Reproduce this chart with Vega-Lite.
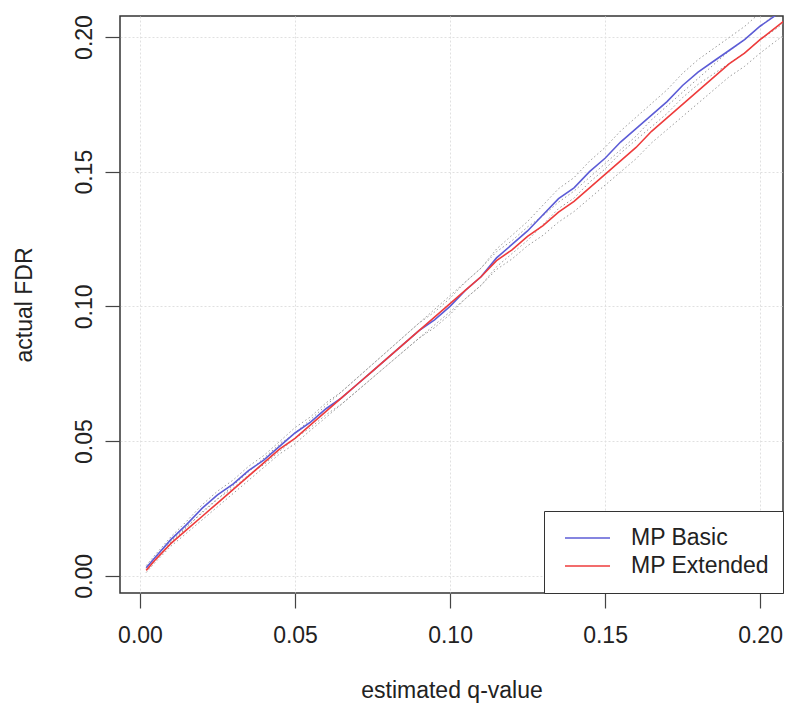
{
  "$schema": "https://vega.github.io/schema/vega-lite/v6.json",
  "width": 663,
  "height": 577,
  "autosize": "none",
  "padding": {"left": 120, "top": 16, "right": 3, "bottom": 111},
  "background": "white",
  "config": {
    "font": "Liberation Sans",
    "view": {"stroke": "#333333", "strokeWidth": 1.5},
    "axis": {
      "domain": false,
      "grid": true,
      "gridColor": "#e0e0e0",
      "gridDash": [2, 2],
      "gridWidth": 1,
      "tickColor": "#444444",
      "tickSize": 15,
      "tickWidth": 1.2,
      "labelFont": "Liberation Sans",
      "labelFontSize": 23,
      "labelColor": "#222222",
      "titleFont": "Liberation Sans",
      "titleFontSize": 23,
      "titleFontWeight": "normal",
      "titleColor": "#222222"
    },
    "legend": {
      "orient": "bottom-right",
      "offset": 0,
      "strokeColor": "#333333",
      "fillColor": "white",
      "padding": 13,
      "symbolOffset": 7,
      "clipHeight": 28,
      "labelFont": "Liberation Sans",
      "labelFontSize": 23,
      "labelColor": "#222222",
      "symbolType": "stroke",
      "symbolSize": 2025,
      "symbolStrokeWidth": 1.5,
      "labelOffset": 20,
      "rowPadding": 0
    }
  },
  "data": {
    "values": [
      {"q": 0.002, "MP Basic": 0.003, "MP Extended": 0.002, "bl": 0.0022, "bh": 0.0038, "el": 0.0012, "eh": 0.0028},
      {"q": 0.005, "MP Basic": 0.007, "MP Extended": 0.006, "bl": 0.0061, "bh": 0.0079, "el": 0.0051, "eh": 0.0069},
      {"q": 0.010, "MP Basic": 0.0135, "MP Extended": 0.012, "bl": 0.0125, "bh": 0.0145, "el": 0.011, "eh": 0.013},
      {"q": 0.015, "MP Basic": 0.019, "MP Extended": 0.017, "bl": 0.0178, "bh": 0.0202, "el": 0.0158, "eh": 0.0182},
      {"q": 0.020, "MP Basic": 0.025, "MP Extended": 0.022, "bl": 0.0237, "bh": 0.0263, "el": 0.0207, "eh": 0.0233},
      {"q": 0.025, "MP Basic": 0.030, "MP Extended": 0.027, "bl": 0.0286, "bh": 0.0314, "el": 0.0256, "eh": 0.0284},
      {"q": 0.030, "MP Basic": 0.034, "MP Extended": 0.032, "bl": 0.0325, "bh": 0.0355, "el": 0.0305, "eh": 0.0335},
      {"q": 0.035, "MP Basic": 0.039, "MP Extended": 0.037, "bl": 0.0374, "bh": 0.0406, "el": 0.0354, "eh": 0.0386},
      {"q": 0.040, "MP Basic": 0.043, "MP Extended": 0.042, "bl": 0.0413, "bh": 0.0447, "el": 0.0403, "eh": 0.0437},
      {"q": 0.045, "MP Basic": 0.048, "MP Extended": 0.047, "bl": 0.0462, "bh": 0.0498, "el": 0.0452, "eh": 0.0488},
      {"q": 0.050, "MP Basic": 0.053, "MP Extended": 0.051, "bl": 0.051, "bh": 0.055, "el": 0.049, "eh": 0.053},
      {"q": 0.055, "MP Basic": 0.057, "MP Extended": 0.056, "bl": 0.055, "bh": 0.059, "el": 0.054, "eh": 0.058},
      {"q": 0.060, "MP Basic": 0.062, "MP Extended": 0.061, "bl": 0.0598, "bh": 0.0642, "el": 0.0588, "eh": 0.0632},
      {"q": 0.065, "MP Basic": 0.066, "MP Extended": 0.066, "bl": 0.0637, "bh": 0.0683, "el": 0.0637, "eh": 0.0683},
      {"q": 0.070, "MP Basic": 0.071, "MP Extended": 0.071, "bl": 0.0686, "bh": 0.0734, "el": 0.0686, "eh": 0.0734},
      {"q": 0.075, "MP Basic": 0.076, "MP Extended": 0.076, "bl": 0.0735, "bh": 0.0785, "el": 0.0735, "eh": 0.0785},
      {"q": 0.080, "MP Basic": 0.081, "MP Extended": 0.081, "bl": 0.0784, "bh": 0.0836, "el": 0.0784, "eh": 0.0836},
      {"q": 0.085, "MP Basic": 0.086, "MP Extended": 0.086, "bl": 0.0833, "bh": 0.0887, "el": 0.0833, "eh": 0.0887},
      {"q": 0.090, "MP Basic": 0.091, "MP Extended": 0.091, "bl": 0.0882, "bh": 0.0938, "el": 0.0882, "eh": 0.0938},
      {"q": 0.095, "MP Basic": 0.095, "MP Extended": 0.096, "bl": 0.0921, "bh": 0.0979, "el": 0.0931, "eh": 0.0989},
      {"q": 0.100, "MP Basic": 0.100, "MP Extended": 0.101, "bl": 0.097, "bh": 0.103, "el": 0.098, "eh": 0.104},
      {"q": 0.105, "MP Basic": 0.106, "MP Extended": 0.106, "bl": 0.1029, "bh": 0.1091, "el": 0.1029, "eh": 0.1091},
      {"q": 0.110, "MP Basic": 0.111, "MP Extended": 0.111, "bl": 0.1078, "bh": 0.1142, "el": 0.1078, "eh": 0.1142},
      {"q": 0.115, "MP Basic": 0.118, "MP Extended": 0.117, "bl": 0.1147, "bh": 0.1213, "el": 0.1137, "eh": 0.1203},
      {"q": 0.120, "MP Basic": 0.123, "MP Extended": 0.121, "bl": 0.1196, "bh": 0.1264, "el": 0.1176, "eh": 0.1244},
      {"q": 0.125, "MP Basic": 0.128, "MP Extended": 0.126, "bl": 0.1245, "bh": 0.1315, "el": 0.1225, "eh": 0.1295},
      {"q": 0.130, "MP Basic": 0.134, "MP Extended": 0.130, "bl": 0.1304, "bh": 0.1376, "el": 0.1264, "eh": 0.1336},
      {"q": 0.135, "MP Basic": 0.140, "MP Extended": 0.135, "bl": 0.1363, "bh": 0.1437, "el": 0.1313, "eh": 0.1387},
      {"q": 0.140, "MP Basic": 0.144, "MP Extended": 0.139, "bl": 0.1402, "bh": 0.1478, "el": 0.1352, "eh": 0.1428},
      {"q": 0.145, "MP Basic": 0.150, "MP Extended": 0.144, "bl": 0.1461, "bh": 0.1539, "el": 0.1401, "eh": 0.1479},
      {"q": 0.150, "MP Basic": 0.155, "MP Extended": 0.149, "bl": 0.151, "bh": 0.159, "el": 0.145, "eh": 0.153},
      {"q": 0.155, "MP Basic": 0.161, "MP Extended": 0.154, "bl": 0.1569, "bh": 0.1651, "el": 0.1499, "eh": 0.1581},
      {"q": 0.160, "MP Basic": 0.166, "MP Extended": 0.159, "bl": 0.1618, "bh": 0.1702, "el": 0.1548, "eh": 0.1632},
      {"q": 0.165, "MP Basic": 0.171, "MP Extended": 0.165, "bl": 0.1667, "bh": 0.1753, "el": 0.1607, "eh": 0.1693},
      {"q": 0.170, "MP Basic": 0.176, "MP Extended": 0.170, "bl": 0.1716, "bh": 0.1804, "el": 0.1656, "eh": 0.1744},
      {"q": 0.175, "MP Basic": 0.182, "MP Extended": 0.175, "bl": 0.1775, "bh": 0.1865, "el": 0.1705, "eh": 0.1795},
      {"q": 0.180, "MP Basic": 0.187, "MP Extended": 0.180, "bl": 0.1824, "bh": 0.1916, "el": 0.1754, "eh": 0.1846},
      {"q": 0.185, "MP Basic": 0.191, "MP Extended": 0.185, "bl": 0.1863, "bh": 0.1957, "el": 0.1803, "eh": 0.1897},
      {"q": 0.190, "MP Basic": 0.195, "MP Extended": 0.190, "bl": 0.1902, "bh": 0.1998, "el": 0.1852, "eh": 0.1948},
      {"q": 0.195, "MP Basic": 0.199, "MP Extended": 0.194, "bl": 0.1941, "bh": 0.2039, "el": 0.1891, "eh": 0.1989},
      {"q": 0.200, "MP Basic": 0.204, "MP Extended": 0.199, "bl": 0.199, "bh": 0.209, "el": 0.194, "eh": 0.204},
      {"q": 0.205, "MP Basic": 0.208, "MP Extended": 0.2035, "bl": 0.2029, "bh": 0.2131, "el": 0.1984, "eh": 0.2086},
      {"q": 0.210, "MP Basic": 0.2125, "MP Extended": 0.208, "bl": 0.2073, "bh": 0.2177, "el": 0.2028, "eh": 0.2132}
    ]
  },
  "layer": [
    {
      "transform": [{"fold": ["bl", "bh", "el", "eh"], "as": ["band", "v"]}],
      "mark": {"type": "line", "color": "#9a9a9a", "strokeWidth": 1, "strokeDash": [1.5, 2.5], "clip": true},
      "encoding": {
        "x": {"field": "q", "type": "quantitative", "scale": {"domain": [-0.00645, 0.2074], "nice": false, "zero": false},
              "axis": {"values": [0, 0.05, 0.1, 0.15, 0.2], "format": ".2f", "title": "estimated q-value", "labelPadding": 16, "titlePadding": 32}},
        "y": {"field": "v", "type": "quantitative", "scale": {"domain": [-0.0064, 0.2078], "nice": false, "zero": false},
              "axis": {"values": [0, 0.05, 0.1, 0.15, 0.2], "format": ".2f", "title": "actual FDR", "labelAngle": -90, "labelAlign": "center", "labelBaseline": "alphabetic", "labelPadding": 14, "titlePadding": 37}},
        "detail": {"field": "band", "type": "nominal"}
      }
    },
    {
      "transform": [{"fold": ["MP Basic", "MP Extended"], "as": ["method", "fdr"]}],
      "mark": {"type": "line", "strokeWidth": 1.6, "clip": true},
      "encoding": {
        "x": {"field": "q", "type": "quantitative", "scale": {"domain": [-0.00645, 0.2074], "nice": false, "zero": false},
              "axis": {"values": [0, 0.05, 0.1, 0.15, 0.2], "format": ".2f", "title": "estimated q-value", "labelPadding": 16, "titlePadding": 32}},
        "y": {"field": "fdr", "type": "quantitative", "scale": {"domain": [-0.0064, 0.2078], "nice": false, "zero": false},
              "axis": {"values": [0, 0.05, 0.1, 0.15, 0.2], "format": ".2f", "title": "actual FDR", "labelAngle": -90, "labelAlign": "center", "labelBaseline": "alphabetic", "labelPadding": 14, "titlePadding": 37}},
        "color": {"field": "method", "type": "nominal", "title": null,
                  "scale": {"domain": ["MP Basic", "MP Extended"], "range": ["#5c5cd6", "#ee3b3b"]}}
      }
    }
  ]
}
